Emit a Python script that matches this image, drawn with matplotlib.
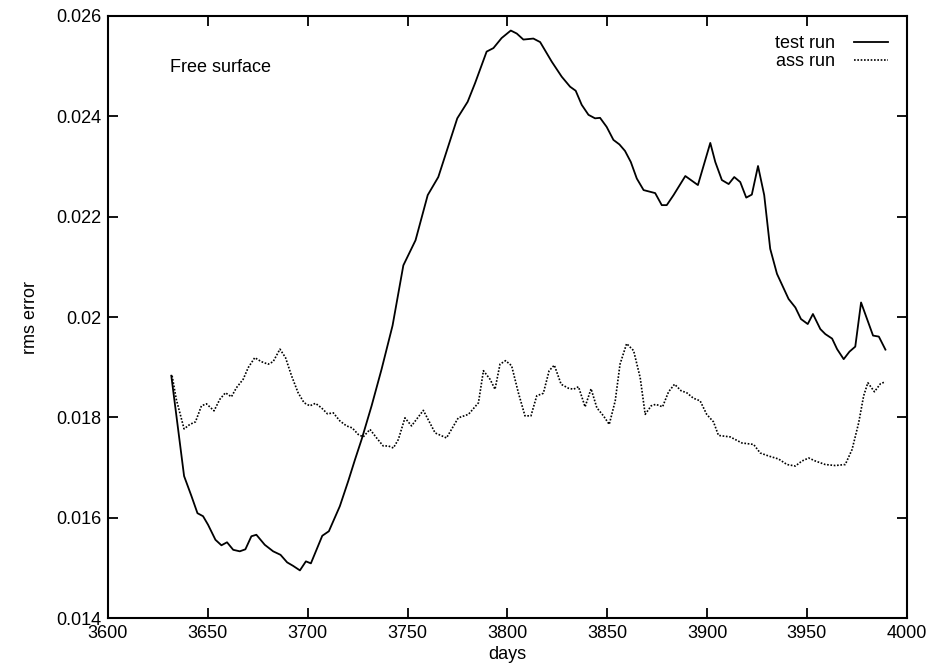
import numpy as np
import matplotlib
matplotlib.use('Agg')
from matplotlib import pyplot as plt

plt.rcParams['font.family'] = ['Liberation Sans', 'DejaVu Sans']

# test run (solid)
test_days = [3631.7, 3638.1, 3641.8, 3644.8, 3647.6, 3650.1, 3653.8, 3656.8, 3659.6, 3662.7,
             3666.0, 3668.8, 3671.8, 3674.3, 3678.5, 3682.7, 3686.4, 3689.7, 3692.7, 3696.1,
             3699.1, 3701.6, 3704.4, 3707.3, 3710.6, 3716.1, 3720.3, 3723.7, 3727.0, 3732.0,
             3737.0, 3742.5, 3747.9, 3754.0, 3760.1, 3765.4, 3774.9, 3780.1, 3783.8, 3789.6,
             3793.0, 3797.1, 3801.7, 3804.7, 3808.0, 3813.0, 3816.4, 3822.2, 3827.2, 3831.4,
             3834.2, 3837.2, 3840.6, 3843.9, 3846.4, 3849.7, 3853.1, 3856.1, 3858.9, 3861.8,
             3864.8, 3868.2, 3874.0, 3877.3, 3879.8, 3883.2, 3889.1, 3895.4, 3901.6, 3904.1,
             3907.4, 3910.8, 3913.6, 3916.6, 3919.6, 3922.4, 3925.5, 3928.6, 3931.6, 3935.0,
             3940.8, 3944.2, 3947.0, 3950.4, 3953.0, 3956.7, 3959.2, 3962.6, 3965.1, 3968.4,
             3971.3, 3974.2, 3977.1, 3980.1, 3983.1, 3986.0, 3989.3]
test_rms = [0.01883, 0.01683, 0.01643, 0.01609, 0.01603, 0.01586, 0.01556, 0.01545, 0.01551, 0.01536,
            0.01533, 0.01537, 0.01563, 0.01566, 0.01546, 0.01533, 0.01526, 0.01511, 0.01504, 0.01495,
            0.01513, 0.01509, 0.01536, 0.01564, 0.01573, 0.01623, 0.01673, 0.01716, 0.01756, 0.01823,
            0.01896, 0.01983, 0.02103, 0.02153, 0.02243, 0.02279, 0.02396, 0.02429, 0.02466, 0.02529,
            0.02536, 0.02556, 0.02571, 0.02565, 0.02553, 0.02555, 0.02548, 0.02509, 0.02479, 0.02459,
            0.02451, 0.02423, 0.02403, 0.02396, 0.02397, 0.02379, 0.02353, 0.02344, 0.02331, 0.02309,
            0.02276, 0.02253, 0.02247, 0.02223, 0.02223, 0.02243, 0.02281, 0.02263, 0.02347, 0.02309,
            0.02273, 0.02265, 0.02279, 0.02269, 0.02238, 0.02244, 0.02301, 0.02243, 0.02136, 0.02086,
            0.02036, 0.02019, 0.01996, 0.01986, 0.02006, 0.01976, 0.01966, 0.01957, 0.01936, 0.01916,
            0.01931, 0.01941, 0.02029, 0.01996, 0.01963, 0.01961, 0.01935]

# ass run (dotted)
ass_days = [3632.1, 3634.2, 3638.1, 3641.0, 3643.8, 3646.8, 3649.3, 3653.1, 3656.0, 3658.8,
            3661.8, 3664.3, 3667.7, 3670.2, 3673.5, 3676.8, 3680.2, 3682.7, 3686.1, 3688.9,
            3691.9, 3695.2, 3698.2, 3701.1, 3703.9, 3706.9, 3709.9, 3712.8, 3716.1, 3719.4,
            3722.3, 3725.3, 3727.8, 3731.2, 3734.5, 3737.8, 3740.4, 3742.9, 3745.4, 3748.7,
            3752.0, 3757.9, 3763.8, 3769.5, 3775.4, 3780.5, 3785.5, 3788.0, 3791.3, 3793.8,
            3796.3, 3799.1, 3802.1, 3805.5, 3808.8, 3811.8, 3814.7, 3818.0, 3820.9, 3823.5,
            3826.9, 3830.6, 3833.1, 3835.6, 3838.9, 3841.9, 3844.8, 3848.1, 3851.0, 3854.0,
            3856.4, 3859.7, 3863.2, 3866.5, 3869.0, 3872.0, 3874.3, 3877.7, 3880.7, 3883.7,
            3887.0, 3889.8, 3893.2, 3896.5, 3899.8, 3903.2, 3905.7, 3911.6, 3917.4, 3923.3,
            3926.6, 3930.8, 3935.8, 3940.0, 3944.2, 3947.5, 3950.9, 3954.2, 3959.2, 3964.2,
            3969.2, 3972.6, 3975.9, 3978.4, 3980.5, 3983.8, 3986.8, 3989.3]
ass_rms = [0.01883, 0.01836, 0.01777, 0.01786, 0.01791, 0.01823, 0.01827, 0.01813, 0.01836, 0.01849,
           0.01841, 0.01859, 0.01876, 0.01899, 0.01919, 0.01911, 0.01906, 0.01911, 0.01936, 0.01919,
           0.01883, 0.01849, 0.01829, 0.01823, 0.01828, 0.01819, 0.01807, 0.01809, 0.01793, 0.01783,
           0.01779, 0.01766, 0.01761, 0.01776, 0.01759, 0.01743, 0.01743, 0.01739, 0.01756, 0.01799,
           0.01783, 0.01814, 0.01769, 0.01759, 0.01799, 0.01806, 0.01829, 0.01893, 0.01876, 0.01856,
           0.01906, 0.01913, 0.01903, 0.01849, 0.01803, 0.01803, 0.01843, 0.01848, 0.01893, 0.01904,
           0.01866, 0.01858, 0.01856, 0.01861, 0.01821, 0.01857, 0.01819, 0.01803, 0.01786, 0.01833,
           0.01906, 0.01947, 0.01933, 0.01879, 0.01806, 0.01823, 0.01826, 0.01821, 0.01851, 0.01866,
           0.01853, 0.01849, 0.01838, 0.01833, 0.01806, 0.01791, 0.01764, 0.01761, 0.01749, 0.01746,
           0.01729, 0.01723, 0.01717, 0.01706, 0.01703, 0.01713, 0.01719, 0.01713, 0.01706, 0.01704,
           0.01706, 0.01736, 0.01789, 0.01843, 0.01869, 0.01851, 0.01867, 0.01871]

x_ticks = [3600, 3650, 3700, 3750, 3800, 3850, 3900, 3950, 4000]
y_ticks = [0.014, 0.016, 0.018, 0.02, 0.022, 0.024, 0.026]
y_labels = ['0.014', '0.016', '0.018', '0.02', '0.022', '0.024', '0.026']

fig = plt.figure(figsize=(9.31, 6.66), dpi=100)
ax = fig.add_axes([0.116, 0.072, 0.858, 0.904])

ax.plot(test_days, test_rms, color='black', lw=1.3, label='test run')
ax.plot(ass_days, ass_rms, color='black', lw=1.2, linestyle=(0, (1, 1)), label='ass run')

ax.set_xlim(3600, 4000)
ax.set_ylim(0.014, 0.026)
ax.set_xticks(x_ticks)
ax.set_xticklabels([str(t) for t in x_ticks])
ax.set_yticks(y_ticks)
ax.set_yticklabels(y_labels)
ax.tick_params(direction='in', length=7, width=1.3, top=True, right=True,
               labelsize=13, pad=5)
for s in ax.spines.values():
    s.set_linewidth(1.5)

ax.set_xlabel('days', fontsize=13, labelpad=3)
ax.set_ylabel('rms error', fontsize=13, labelpad=12)

ax.text(0.078, 0.915, 'Free surface', transform=ax.transAxes, fontsize=13,
        ha='left', va='center')

ax.legend(loc='upper right', frameon=False, markerfirst=False, fontsize=13,
          handlelength=1.9, handletextpad=1.0, labelspacing=0.05,
          borderaxespad=0.65)

fig.savefig('out.png', dpi=100)
